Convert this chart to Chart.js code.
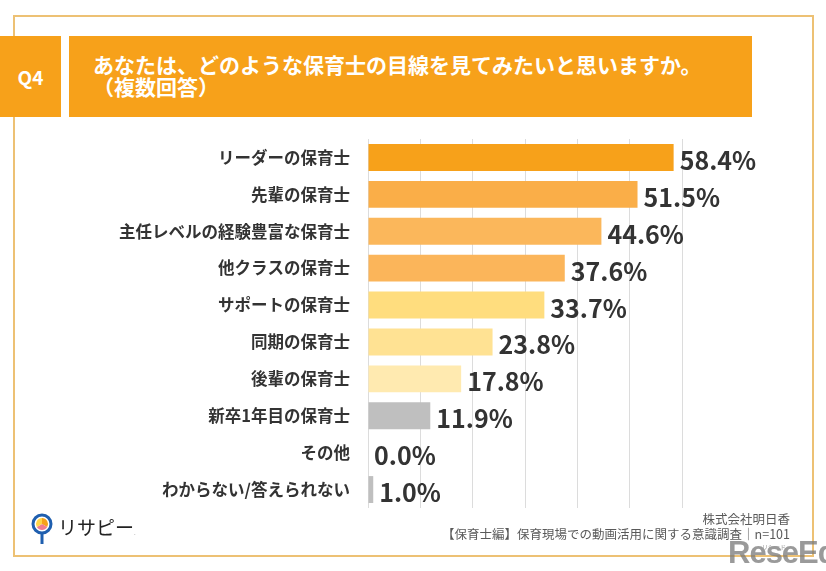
<!DOCTYPE html>
<html lang="ja">
<head>
<meta charset="utf-8">
<script src="https://cdn.jsdelivr.net/npm/chart.js@4/dist/chart.umd.min.js"></script>
<style>
  html,body{margin:0;padding:0;background:#fff;}
  body{width:826px;height:571px;position:relative;overflow:hidden;font-family:"Noto Sans CJK JP","Noto Sans",sans-serif;}
  #frame{position:absolute;left:13px;top:15px;width:801px;height:542px;border:2px solid #EDC174;box-sizing:border-box;}
  #q4{position:absolute;left:0;top:36px;width:61px;height:81px;background:#F7A11A;color:#fff;font-weight:700;font-size:19px;line-height:81px;text-align:center;font-family:"Noto Sans CJK JP",sans-serif;}
  #titlebox{position:absolute;left:69px;top:36px;width:683px;height:81px;background:#F7A11A;}
  #title{position:absolute;left:93px;top:53px;color:#fff;font-weight:700;font-size:21px;line-height:22px;white-space:nowrap;}
  #chartwrap{position:absolute;left:0;top:0;width:826px;height:571px;}
  #foot1,#foot2{position:absolute;right:36px;color:#595959;font-size:12.5px;white-space:nowrap;line-height:14px;}
  #foot1{top:512px;}
  #foot2{top:527px;}
  #logo{position:absolute;left:58px;top:515px;font-size:19px;color:#222;font-weight:400;line-height:24px;}
  #wm{position:absolute;left:728px;top:536px;font-size:31px;font-weight:700;color:rgba(120,120,120,0.75);font-family:"Liberation Sans",sans-serif;letter-spacing:-1px;line-height:34px;}
  #wm small{position:absolute;left:34px;top:-6px;font-size:6px;font-weight:400;letter-spacing:0;color:#999;font-family:"Noto Sans CJK JP",sans-serif;}
</style>
</head>
<body>
<div id="frame"></div>
<div id="q4">Q4</div>
<div id="titlebox"></div>
<div id="title">あなたは、どのような保育士の目線を見てみたいと思いますか。<br>（複数回答）</div>
<div id="chartwrap"><canvas id="c" width="826" height="571"></canvas></div>
<svg style="position:absolute;left:30px;top:512px" width="24" height="34" viewBox="0 0 24 34">
  <circle cx="12" cy="12" r="9" fill="#fff" stroke="#1F5FAF" stroke-width="3"/>
  <path d="M12 12 L12 6 A6 6 0 0 1 17.2 15 Z" fill="#F7A11A"/>
  <path d="M12 12 L17.2 15 A6 6 0 0 1 6.8 15 Z" fill="#F27C8E"/>
  <path d="M12 12 L6.8 15 A6 6 0 0 1 12 6 Z" fill="#FFD54A"/>
  <line x1="12" y1="21" x2="12" y2="32" stroke="#1F5FAF" stroke-width="3"/>
</svg>
<div id="logo">リサピー<span style="font-size:6px;color:#888">.</span></div>
<div id="foot1">株式会社明日香</div>
<div id="foot2">【保育士編】保育現場での動画活用に関する意識調査｜n=101</div>
<div id="wm"><small>リシード</small>ReseEd</div>
<script>
const categories = ["リーダーの保育士","先輩の保育士","主任レベルの経験豊富な保育士","他クラスの保育士","サポートの保育士","同期の保育士","後輩の保育士","新卒1年目の保育士","その他","わからない/答えられない"];
const values = [58.4, 51.5, 44.6, 37.6, 33.7, 23.8, 17.8, 11.9, 0.0, 1.0];
const barColors = ["#F7A11A","#FAAE48","#FBB75B","#FBB55A","#FFDD7E","#FFE293","#FFEAB0","#BFBFBF","#BFBFBF","#BFBFBF"];
const xTicks = [0,10,20,30,40,50,60];

const labelPlugin = {
  id:'valueLabels',
  afterDatasetsDraw(chart){
    const ctx = chart.ctx;
    const meta = chart.getDatasetMeta(0);
    ctx.save();
    ctx.font = '700 25px "Noto Sans CJK JP", "Noto Sans", sans-serif';
    ctx.fillStyle = '#333333';
    ctx.textAlign = 'left';
    ctx.textBaseline = 'middle';
    meta.data.forEach((el,i)=>{
      ctx.fillText(values[i].toFixed(1)+'%', el.x + 6, el.y + 3);
    });
    ctx.restore();
  }
};

new Chart(document.getElementById('c'), {
  type:'bar',
  data:{
    labels:categories,
    datasets:[{data:values, backgroundColor:barColors, borderWidth:0, barPercentage:0.73, categoryPercentage:1.0}]
  },
  options:{
    indexAxis:'y',
    responsive:false,
    animation:false,
    devicePixelRatio:1,
    layout:{padding:{left:0,right:144,top:139,bottom:63}},
    plugins:{legend:{display:false},tooltip:{enabled:false}},
    scales:{
      x:{
        min:0,max:60,
        afterBuildTicks(s){ s.ticks = xTicks.map(v=>({value:v})); },
        ticks:{display:false},
        grid:{color:'#DCDCDC',lineWidth:1,drawTicks:false},
        border:{display:false},
        afterFit(s){ s.height = 0; }
      },
      y:{
        ticks:{color:'#333333',padding:18,font:{family:'"Noto Sans CJK JP", sans-serif',size:16.5,weight:'700'}},
        grid:{display:false,drawTicks:false},
        border:{display:false},
        afterFit(s){ s.width = 368; }
      }
    }
  },
  plugins:[labelPlugin]
});
</script>
</body>
</html>
